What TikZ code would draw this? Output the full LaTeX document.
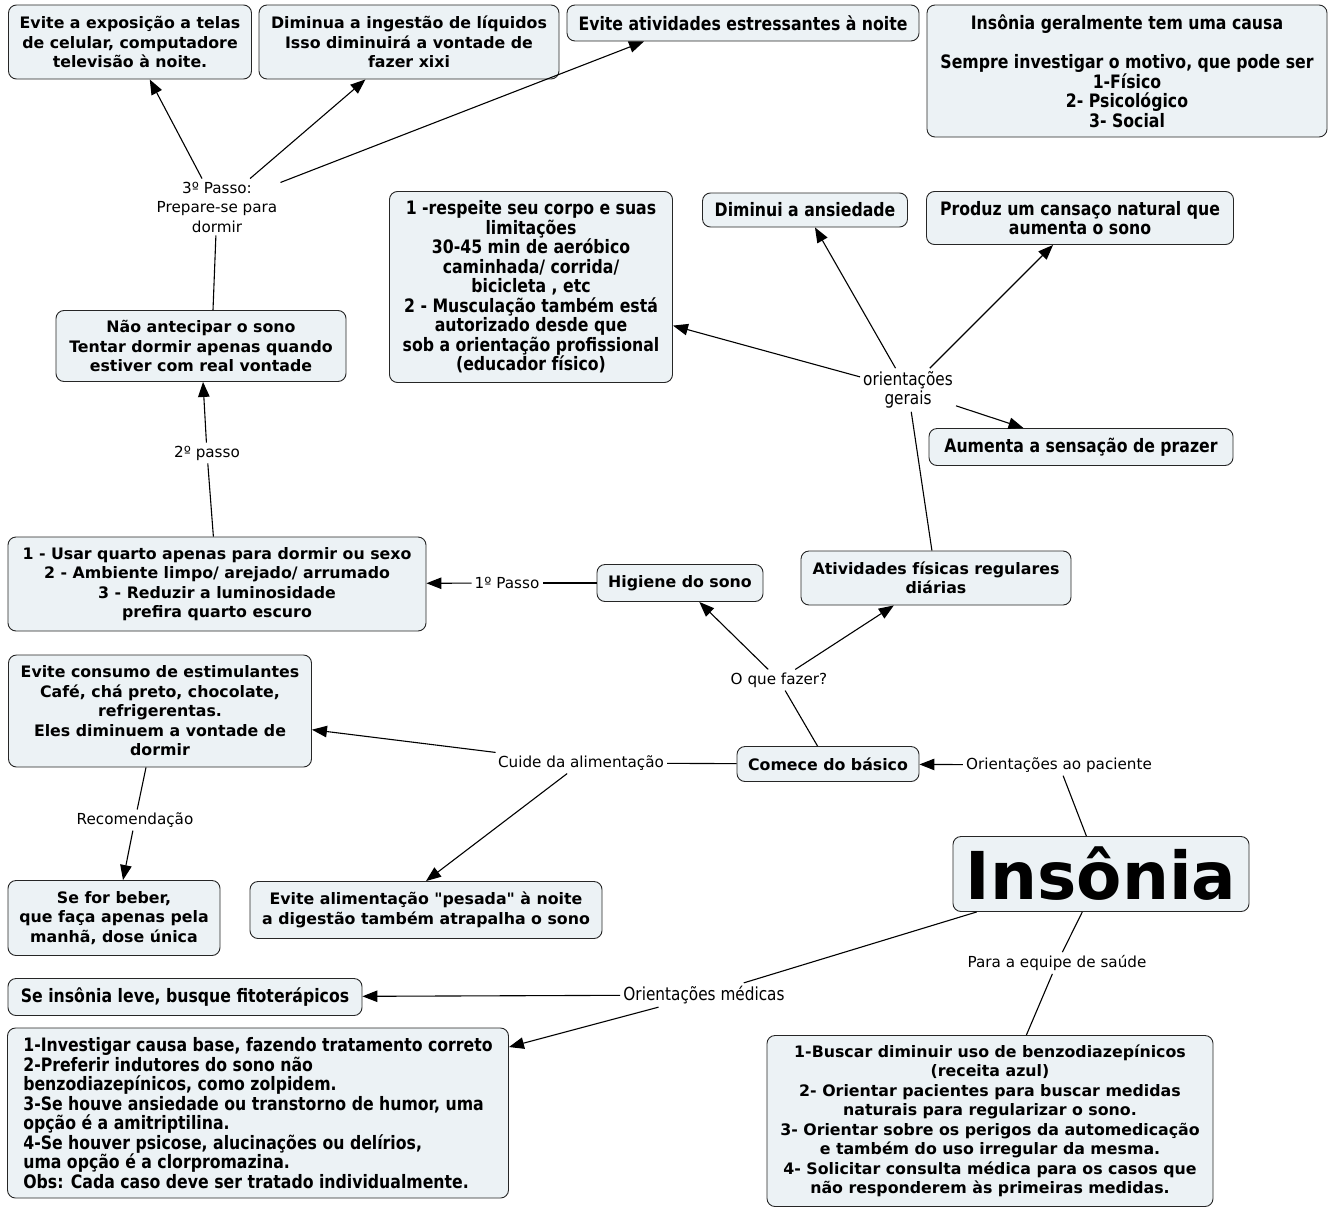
\documentclass[tikz,border=0pt]{standalone}
\usepackage{fontspec}
\setmainfont{DejaVu Sans}[Ligatures=TeXOff]
\newfontfamily\condfamily{DejaVu Sans}[FakeStretch=0.85]
\usetikzlibrary{arrows.meta}

\definecolor{conceptfill}{RGB}{236,242,245}
\newcommand{\conceptfont}{\fontsize{15.8}{19.5}\selectfont\bfseries}
\newcommand{\condconceptfont}{\condfamily\fontsize{18.5}{19.5}\selectfont\bfseries}
\newcommand{\linkfont}{\fontsize{15.2}{19.5}\selectfont}
\newcommand{\condlinkfont}{\condfamily\fontsize{18}{19.5}\selectfont}

\begin{document}
\begin{tikzpicture}[x=1pt,y=-1pt,>={Triangle[length=15pt,width=11.5pt]},
    concept/.style={draw=black!85,fill=conceptfill,rounded corners=8pt,line width=0.9pt,
      align=center,inner sep=4pt,font=\conceptfont},
    condconcept/.style={concept,font=\condconceptfont},
    link/.style={align=center,inner sep=3pt,font=\linkfont},
    condlink/.style={link,font=\condlinkfont},
    conn/.style={line width=1.1pt}]
  \useasboundingbox (0,0) rectangle (1335,1207);
  \fill[white] (0,0) rectangle (1335,1207);

  % concepts
  \node[concept,minimum width=243,minimum height=74] (telas) at (130,42)
    {Evite a exposição a telas\\de celular, computadore\\televisão à noite.};
  \node[concept,minimum width=300,minimum height=74] (liquidos) at (409,42)
    {Diminua a ingestão de líquidos\\Isso diminuirá a vontade de\\fazer xixi};
  \node[condconcept,minimum width=352,minimum height=36] (estresse) at (743,23)
    {Evite atividades estressantes à noite};
  \node[condconcept,minimum width=400,minimum height=132] (causa) at (1127,71)
    {Insônia geralmente tem uma causa\\[19.5pt]Sempre investigar o motivo, que pode ser\\1-Físico\\2- Psicológico\\3- Social};
  \node[condconcept,minimum width=283,minimum height=191] (corpo) at (531,287)
    {1 -respeite seu corpo e suas\\limitações\\30-45 min de aeróbico\\caminhada/ corrida/\\bicicleta , etc\\2 - Musculação também está\\autorizado desde que\\sob a orientação profissional\\(educador físico)};
  \node[condconcept,minimum width=205,minimum height=34] (ansiedade) at (805,210)
    {Diminui a ansiedade};
  \node[condconcept,minimum width=307,minimum height=53] (cansaco) at (1080,218)
    {Produz um cansaço natural que\\aumenta o sono};
  \node[concept,minimum width=290,minimum height=71] (naoant) at (201,346)
    {Não antecipar o sono\\Tentar dormir apenas quando\\estiver com real vontade};
  \node[condconcept,minimum width=304,minimum height=37] (prazer) at (1081,447)
    {Aumenta a sensação de prazer};
  \node[concept,minimum width=418,minimum height=94] (quarto) at (217,584)
    {1 - Usar quarto apenas para dormir ou sexo\\2 - Ambiente limpo/ arejado/ arrumado\\3 - Reduzir a luminosidade\\prefira quarto escuro};
  \node[concept,minimum width=166,minimum height=37] (higiene) at (680,583)
    {Higiene do sono};
  \node[concept,minimum width=270,minimum height=54] (ativ) at (936,578)
    {Atividades físicas regulares\\diárias};
  \node[concept,minimum width=303,minimum height=112] (consumo) at (160,711)
    {Evite consumo de estimulantes\\Café, chá preto, chocolate,\\refrigerentas.\\Eles diminuem a vontade de\\dormir};
  \node[concept,minimum width=182,minimum height=35] (comece) at (828,764)
    {Comece do básico};
  \node[concept,minimum width=212,minimum height=75] (beber) at (114,918)
    {Se for beber,\\que faça apenas pela\\manhã, dose única};
  \node[concept,minimum width=352,minimum height=57] (pesada) at (426,910)
    {Evite alimentação "pesada" à noite\\a digestão também atrapalha o sono};
  \node[concept,minimum width=296,minimum height=75,font=\fontsize{66}{70}\selectfont\bfseries] (insonia) at (1101,874)
    {Insônia};
  \node[condconcept,minimum width=354,minimum height=37] (leve) at (185,997)
    {Se insônia leve, busque fitoterápicos};
  \node[condconcept,minimum width=501,minimum height=170,align=left] (invest) at (258,1113)
    {1-Investigar causa base, fazendo tratamento correto\\2-Preferir indutores do sono não\\benzodiazepínicos, como zolpidem.\\3-Se houve ansiedade ou transtorno de humor, uma\\opção é a amitriptilina.\\4-Se houver psicose, alucinações ou delírios,\\uma opção é a clorpromazina.\\Obs: Cada caso deve ser tratado individualmente.};
  \node[concept,minimum width=446,minimum height=171] (buscar) at (990,1121)
    {1-Buscar diminuir uso de benzodiazepínicos\\(receita azul)\\2- Orientar pacientes para buscar medidas\\naturais para regularizar o sono.\\3- Orientar sobre os perigos da automedicação\\e também do uso irregular da mesma.\\4- Solicitar consulta médica para os casos que\\não responderem às primeiras medidas.};

  % linking phrases
  \node[link] (passo3) at (217,207) {3º Passo:\\Prepare-se para\\dormir};
  \node[condlink] (gerais) at (908,390) {orientações\\gerais};
  \node[link] (passo2) at (207,453) {2º passo};
  \node[link] (passo1) at (507,583) {1º Passo};
  \node[link] (oque) at (779,680) {O que fazer?};
  \node[link] (cuide) at (581,763) {Cuide da alimentação};
  \node[link] (opac) at (1059,765) {Orientações ao paciente};
  \node[link] (recom) at (135,820) {Recomendação};
  \node[link] (equipe) at (1057,963) {Para a equipe de saúde};
  \node[condlink] (omed) at (704,995) {Orientações médicas};

  % connectors
  \draw[conn,->] (passo3) -- (telas);
  \draw[conn,->] (passo3) -- (liquidos);
  \draw[conn,->] (passo3) -- ([xshift=-99pt]estresse.south);
  \draw[conn] ([xshift=12pt]naoant.north) -- (passo3);
  \draw[conn] (quarto) -- (passo2);
  \draw[conn,->] (passo2) -- (naoant);
  \draw[conn] (higiene) -- (passo1);
  \draw[conn,->] (passo1) -- (quarto);
  \draw[conn] (comece) -- (oque);
  \draw[conn,->] (oque) -- (higiene);
  \draw[conn,->] (oque) -- (ativ);
  \draw[conn] (ativ) -- (gerais);
  \draw[conn,->] (gerais) -- (corpo);
  \draw[conn,->] (gerais) -- (ansiedade);
  \draw[conn,->] (gerais) -- (cansaco);
  \draw[conn,->] (gerais) -- (prazer);
  \draw[conn] (comece) -- (cuide);
  \draw[conn,->] (cuide) -- (consumo);
  \draw[conn,->] (cuide) -- (pesada.north);
  \draw[conn] ([xshift=-14pt]consumo.south) -- (recom);
  \draw[conn,->] (recom) -- ([xshift=9pt]beber.north);
  \draw[conn] (insonia) -- (opac);
  \draw[conn,->] (opac) -- (comece);
  \draw[conn] (insonia) -- (equipe);
  \draw[conn] (equipe) -- (buscar);
  \draw[conn] (insonia) -- (omed);
  \draw[conn,->] (omed) -- (leve);
  \draw[conn,->] (omed) -- (invest);
\end{tikzpicture}
\end{document}
